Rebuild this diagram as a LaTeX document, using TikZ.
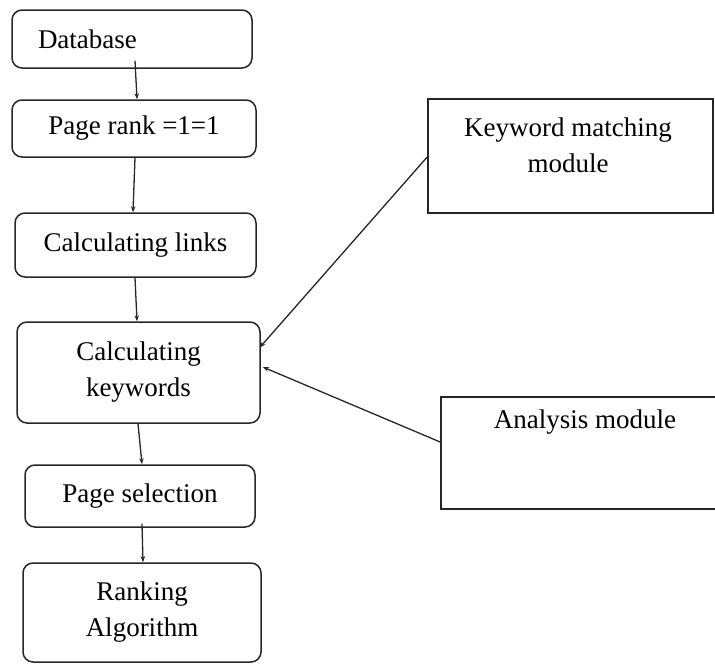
\documentclass[tikz,border=0pt]{standalone}
\usepackage{fontspec}
\setmainfont{Liberation Serif}
\usetikzlibrary{arrows.meta}
\begin{document}
\begin{tikzpicture}[x=1pt,y=-1pt,
  every node/.style={font=\fontsize{27}{36}\selectfont, inner sep=0pt},
  rbox/.style={draw, line width=1.5pt, draw=black!85, rounded corners=10pt},
  sqbox/.style={draw, line width=1.6pt, draw=black!85},
  arr/.style={line width=1.3pt, draw=black!85, -{Stealth[length=6pt,width=4.5pt]}},
  lbl/.style={align=center}]
\useasboundingbox (0,0) rectangle (715,664);
\clip (0,0) rectangle (715,664);

% flow boxes on the left
\node[rbox, minimum width=240pt, minimum height=58pt, text width=188pt, align=left] (db) at (132,39) {Database};
\node[rbox, minimum width=244pt, minimum height=57pt] (pr) at (134,128.5) {Page rank =1=1};
\node[rbox, minimum width=241pt, minimum height=64pt] (cl) at (135.5,245) {Calculating links};
\node[rbox, minimum width=243pt, minimum height=101pt, align=center] (ck) at (138.5,372.5) {Calculating\\keywords};
\node[rbox, minimum width=230pt, minimum height=62pt] (ps) at (140,496) {Page selection};
\node[rbox, minimum width=238pt, minimum height=99pt, align=center] (ra) at (142,612.5) {Ranking\\Algorithm};

% module boxes on the right
\node[sqbox, minimum width=285pt, minimum height=114pt] (km) at (570.5,156) {};
\node[lbl] (kmt) at (568,145) {Keyword matching\\module};
\node[sqbox, minimum width=300pt, minimum height=112pt] (am) at (591,453) {};
\node[lbl] (amt) at (585,422) {Analysis module};

% connectors
\draw[arr] ([xshift=3pt,yshift=8pt]db.south) -- ([xshift=3pt]pr.north);
\draw[arr] ([xshift=1pt]pr.south) -- ([xshift=-2.5pt]cl.north);
\draw[arr] ([xshift=-0.5pt]cl.south) -- ([xshift=-1.5pt]ck.north);
\draw[arr] ([xshift=-0.5pt]ck.south) -- ([xshift=2pt]ps.north);
\draw[arr] ([xshift=2pt,yshift=4pt]ps.south) -- ([xshift=1pt]ra.north);
\draw[arr] ([yshift=-1pt]km.west) -- ([xshift=-1pt,yshift=25pt]ck.east);
\draw[arr] ([yshift=11pt]am.west) -- ([xshift=2pt,yshift=5.5pt]ck.east);
\end{tikzpicture}
\end{document}
